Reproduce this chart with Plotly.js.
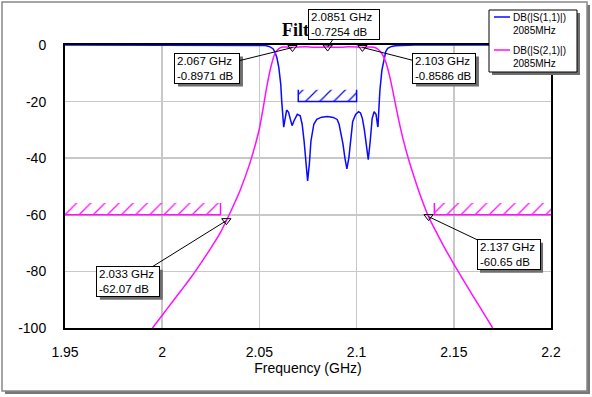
<!DOCTYPE html>
<html><head><meta charset="utf-8">
<script src="https://cdn.plot.ly/plotly-3.0.1.min.js"></script>
<style>html,body{margin:0;padding:0;background:#fff}#chart{width:592px;height:397px}</style>
</head><body><div id="chart"></div>
<script>
// ---------- data ----------
const freqS11 = [1.95, 2.04, 2.05, 2.053, 2.055, 2.057, 2.058, 2.059, 2.060, 2.061, 2.0615, 2.062, 2.0625, 2.063, 2.064, 2.065, 2.066, 2.0668, 2.068, 2.0695, 2.071, 2.072, 2.073, 2.074, 2.0748, 2.0757, 2.0765, 2.078, 2.0795, 2.082, 2.085, 2.088, 2.090, 2.091, 2.092, 2.093, 2.094, 2.095, 2.096, 2.097, 2.098, 2.0995, 2.101, 2.102, 2.103, 2.104, 2.105, 2.106, 2.107, 2.108, 2.109, 2.110, 2.1108, 2.111, 2.1115, 2.112, 2.113, 2.114, 2.115, 2.116, 2.118, 2.120, 2.125, 2.13, 2.2];
const dbS11   = [0, 0, -0.05, -0.2, -0.5, -1.3, -2.5, -4.5, -8, -14, -20, -27, -29, -27, -23, -23.8, -27, -28.5, -26.5, -24.5, -25, -28, -34, -42, -48, -42, -34, -28, -26.3, -25.5, -25.3, -25.6, -26.3, -28, -31, -35, -40, -43.8, -40, -33, -27, -24.5, -23.6, -24, -26, -30, -36, -40.5, -34, -26, -23.6, -24.5, -28.5, -29, -22, -16, -9, -5, -2.3, -1.2, -0.5, -0.25, -0.1, -0.03, 0];
const freqS21 = [1.995, 2.000, 2.005, 2.010, 2.016, 2.020, 2.025, 2.030, 2.033, 2.035, 2.040, 2.045, 2.048, 2.050, 2.052, 2.054, 2.056, 2.058, 2.060, 2.062, 2.064, 2.067, 2.070, 2.074, 2.078, 2.0851, 2.092, 2.096, 2.100, 2.103, 2.106, 2.109, 2.111, 2.113, 2.115, 2.117, 2.119, 2.1215, 2.124, 2.127, 2.130, 2.1335, 2.137, 2.140, 2.145, 2.150, 2.155, 2.160, 2.165, 2.170];
const dbS21   = [-100, -95.5, -91, -86.5, -81, -77, -71.8, -66.2, -62.07, -59.2, -51.5, -42, -35, -29.5, -22, -14, -7.5, -3, -1.3, -0.7, -0.75, -0.8971, -0.7, -0.6, -0.8, -0.7254, -0.8, -0.6, -0.7, -0.8586, -0.7, -0.8, -1.5, -3, -6, -11, -17.5, -26, -33.5, -41, -47.5, -54.5, -60.65, -64.8, -71.3, -77.4, -83.2, -88.8, -94.4, -100];

const markerFreq = [2.067, 2.0851, 2.103, 2.033, 2.137];
const markerDB   = [-0.8971, -0.7254, -0.8586, -62.07, -60.65];
const markerFreqText = ['2.067', '2.0851', '2.103', '2.033', '2.137'];
const markerDBText   = ['-0.8971', '-0.7254', '-0.8586', '-62.07', '-60.65'];

const xTickVals = [1.95, 2, 2.05, 2.1, 2.15, 2.2];
const xTickText = ['1.95', '2', '2.05', '2.1', '2.15', '2.2'];
const yTickVals = [0, -20, -40, -60, -80, -100];
const yTickText = ['0', '-20', '-40', '-60', '-80', '-100'];

const seriesNames = ['DB(|S(1,1)|)', 'DB(|S(2,1)|)'];
const seriesSub   = ['2085MHz', '2085MHz'];

// mask specs (frequency span, limit level)
const maskS11Freq = [2.07, 2.10];   const maskS11Level = -20;
const maskS21LoFreq = [1.95, 2.03]; const maskS21HiFreq = [2.14, 2.2]; const maskS21Level = -60;

// ---------- styling ----------
const BLUE = '#0a0aff', MAG = '#ff10ff';
const FONT = 'Liberation Sans, Arial, sans-serif';
const HATCH = 4.2; // depth of hatch band in dB (style)
const L = 65, T = 45, W = 486, H = 283;
const PX = x => (x - L) / W;
const PY = y => (T + H - y) / H;

function maskTraces(f, level, color, leftWall, rightWall) {
  const hatch = {
    x: [f[0], f[1], f[1], f[0], f[0]],
    y: [level, level, level + HATCH, level + HATCH, level],
    mode: 'lines', fill: 'toself', line: {width: 0, color: color},
    fillcolor: 'rgba(0,0,0,0)',
    fillpattern: {shape: '/', fgcolor: color, bgcolor: 'rgba(0,0,0,0)', size: 10, solidity: 0.13},
    hoverinfo: 'skip', showlegend: false
  };
  const bx = [], by = [];
  if (leftWall) { bx.push(f[0]); by.push(level + HATCH); }
  bx.push(f[0], f[1]); by.push(level, level);
  if (rightWall) { bx.push(f[1]); by.push(level + HATCH); }
  const edge = {x: bx, y: by, mode: 'lines', line: {color: color, width: 1.5}, hoverinfo: 'skip', showlegend: false};
  return [hatch, edge];
}

const traces = [
  ...maskTraces(maskS11Freq, maskS11Level, BLUE, true, true),
  ...maskTraces(maskS21LoFreq, maskS21Level, MAG, false, true),
  ...maskTraces(maskS21HiFreq, maskS21Level, MAG, true, false),
  {x: freqS11, y: dbS11, name: seriesNames[0], mode: 'lines', line: {color: BLUE, width: 1.5}, showlegend: false},
  {x: freqS21, y: dbS21, name: seriesNames[1], mode: 'lines', line: {color: MAG, width: 1.5, shape: 'spline', smoothing: 0.7}, showlegend: false},
  {x: markerFreq, y: markerDB, mode: 'markers', marker: {symbol: 'triangle-down-open', size: 8, color: '#000', line: {width: 1, color: '#000'}}, showlegend: false}
];

// marker label box offsets and sizes (pixels)
const boxOff = [[-85, 21], [16, -23], [82, 21], [-98, 61], [80, 38]];
const boxW = [60, 66, 58, 58, 58];
const BOX_H = 25, PAD = 2;

const annotations = [];
const shapes = [
  // outer frame with shadow
  {type: 'rect', xref: 'paper', yref: 'paper', x0: PX(5), x1: PX(590), y0: PY(5), y1: PY(394), layer: 'below', fillcolor: '#777', line: {width: 0}},
  {type: 'rect', xref: 'paper', yref: 'paper', x0: PX(2), x1: PX(587), y0: PY(2), y1: PY(391), layer: 'below', fillcolor: '#fff', line: {color: '#888', width: 1.5}}
];

// title (partially hidden by marker box, as in the reference)
annotations.push({xref: 'paper', yref: 'paper', x: PX(280), y: PY(30), xanchor: 'left', yanchor: 'middle',
  text: 'Filter', showarrow: false, font: {family: 'Liberation Serif, Times New Roman, serif', size: 18, weight: 'bold', color: '#000'}});

markerFreq.forEach((f, i) => {
  const txt = markerFreqText[i] + ' GHz<br>' + markerDBText[i] + ' dB';
  const fw = boxW[i] + 2 * PAD + 1, fh = BOX_H + 2 * PAD + 1;
  const cx = boxOff[i][0], cy = -boxOff[i][1];
  shapes.push({type: 'rect', xref: 'x', yref: 'y', xsizemode: 'pixel', ysizemode: 'pixel', xanchor: f, yanchor: markerDB[i],
    x0: cx - fw / 2 + 3, x1: cx + fw / 2 + 3, y0: cy - fh / 2 - 3, y1: cy + fh / 2 - 3,
    layer: 'above', fillcolor: '#6e6e6e', line: {width: 0}});
  annotations.push({x: f, y: markerDB[i], xref: 'x', yref: 'y', ax: boxOff[i][0], ay: boxOff[i][1],
    text: txt, align: 'left', width: boxW[i], height: BOX_H, valign: 'middle',
    showarrow: true, arrowhead: 0, arrowwidth: 1, standoff: 0, borderpad: PAD, borderwidth: 1,
    bgcolor: '#fff', bordercolor: '#000', arrowcolor: '#000',
    font: {family: FONT, size: 11.5, color: '#000'}});
});

// legend
shapes.push(
  {type: 'rect', xref: 'paper', yref: 'paper', x0: PX(492), x1: PX(580), y0: PY(13), y1: PY(75), layer: 'above', fillcolor: '#6e6e6e', line: {width: 0}},
  {type: 'rect', xref: 'paper', yref: 'paper', x0: PX(489), x1: PX(577), y0: PY(10), y1: PY(72), layer: 'above', fillcolor: '#fff', line: {color: '#000', width: 1}},
  {type: 'line', xref: 'paper', yref: 'paper', x0: PX(494), x1: PX(510), y0: PY(17), y1: PY(17), layer: 'above', line: {color: BLUE, width: 1.5}},
  {type: 'line', xref: 'paper', yref: 'paper', x0: PX(494), x1: PX(510), y0: PY(50), y1: PY(50), layer: 'above', line: {color: MAG, width: 1.5}}
);
[0, 1].forEach(i => {
  annotations.push({xref: 'paper', yref: 'paper', x: PX(511), y: PY(i === 0 ? 10 : 43), xanchor: 'left', yanchor: 'top',
    text: seriesNames[i] + '<br>' + seriesSub[i], align: 'left', showarrow: false,
    font: {family: FONT, size: 10, color: '#000'}});
});

const axisCommon = {showline: true, mirror: true, linecolor: '#000', linewidth: 2, showgrid: true,
  gridcolor: '#c8c8c8', gridwidth: 1.5, zeroline: false, ticks: '', layer: 'below traces',
  tickfont: {family: FONT, size: 14, color: '#000'}, fixedrange: true};

const layout = {
  width: 592, height: 397,
  margin: {l: L, r: 592 - L - W, t: T, b: 397 - T - H, pad: 0},
  paper_bgcolor: '#fff', plot_bgcolor: 'rgba(0,0,0,0)',
  showlegend: false,
  xaxis: Object.assign({}, axisCommon, {range: [1.95, 2.2], tickmode: 'array', tickvals: xTickVals, ticktext: xTickText,
    ticklabelstandoff: 10,
    title: {text: 'Frequency (GHz)', font: {family: FONT, size: 14, color: '#000'}, standoff: 4}}),
  yaxis: Object.assign({}, axisCommon, {range: [-100, 0], tickmode: 'array', tickvals: yTickVals, ticktext: yTickText,
    ticklabelstandoff: 14}),
  shapes: shapes,
  annotations: annotations
};

Plotly.newPlot('chart', traces, layout, {displayModeBar: false, staticPlot: true});
</script>
</body></html>
